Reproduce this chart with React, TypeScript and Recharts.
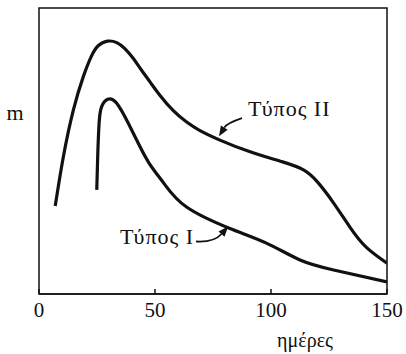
import { LineChart, Line, XAxis, YAxis, ReferenceArea, ReferenceDot } from 'recharts';

const xTicks = [0, 50, 100, 150];

const typeIIDays = [7, 10.5, 14.8, 19.1, 22.5, 25.5, 29.5, 33.5, 37, 40.5, 44, 48, 52, 58, 63.5, 69, 78, 91, 105, 114, 120, 127, 134, 141, 150];
const typeIIValues = [30.8, 48, 64.3, 76, 83, 86.8, 88.4, 87.9, 85.8, 82.5, 78.5, 74, 69.6, 64, 60.2, 57.3, 53.8, 49.7, 46.2, 43.4, 39.2, 31.8, 23.4, 16.4, 10.8];

const typeIDays = [24.9, 25.3, 25.9, 27, 29.6, 33.5, 38.5, 42.8, 47.5, 54, 63.6, 82, 98, 112.5, 127, 150];
const typeIValues = [36.4, 48, 59.7, 65.5, 68.1, 66.7, 59.7, 52.7, 45.7, 38.5, 30.4, 23, 17.8, 11.9, 8.4, 4.2];

const seriesLabels = ['Τύπος I', 'Τύπος II'];
const xLabel = 'ημέρες';
const yLabel = 'm';

const FONT = '"Liberation Serif", "Times New Roman", serif';

const typeI = typeIDays.map((day, i) => ({ day, value: typeIValues[i] }));
const typeII = typeIIDays.map((day, i) => ({ day, value: typeIIValues[i] }));

// curved arrow ending at (cx, cy), tail and control given as offsets in px
function Arrow({ cx, cy, tail, ctrl, text, textDx, textDy, anchor }: any) {
  const tx = cx + tail[0];
  const ty = cy + tail[1];
  const qx = cx + ctrl[0];
  const qy = cy + ctrl[1];
  const ang = Math.atan2(cy - qy, cx - qx);
  const len = 10;
  const w = 4;
  const bx = cx - len * Math.cos(ang);
  const by = cy - len * Math.sin(ang);
  const p1 = `${bx - w * Math.sin(ang)},${by + w * Math.cos(ang)}`;
  const p2 = `${bx + w * Math.sin(ang)},${by - w * Math.cos(ang)}`;
  return (
    <g>
      <path d={`M${tx},${ty} Q${qx},${qy} ${bx},${by}`} fill="none" stroke="#111" strokeWidth={1.8} />
      <polygon points={`${cx},${cy} ${p1} ${p2}`} fill="#111" />
      <text
        x={cx + textDx}
        y={cy + textDy}
        textAnchor={anchor}
        fontSize={22}
        letterSpacing={1}
        fontFamily={FONT}
        fill="#111"
      >
        {text}
      </text>
    </g>
  );
}

export default function App() {
  return (
    <div style={{ position: 'absolute', left: 0, top: 0, width: 406, height: 354, background: '#fff' }}>
      <LineChart width={406} height={354} margin={{ top: 8, right: 19, left: 0, bottom: 0 }}>
        <XAxis
          type="number"
          dataKey="day"
          domain={[0, 150]}
          ticks={xTicks}
          allowDataOverflow
          height={60}
          axisLine={{ stroke: '#111', strokeWidth: 1.5 }}
          tickLine={{ stroke: '#111', strokeWidth: 1.5 }}
          tickSize={-5}
          tickMargin={13}
          tick={{ fontSize: 21, fontFamily: FONT, fill: '#111' }}
          label={{
            content: ({ viewBox }: any) => (
              <text x={viewBox.x + viewBox.width - 54} y={viewBox.y + 53} textAnchor="end" fontSize={20} fontFamily={FONT} fill="#111">
                {xLabel}
              </text>
            ),
          }}
        />
        <YAxis
          type="number"
          domain={[0, 100]}
          width={39}
          tick={false}
          tickLine={false}
          axisLine={false}
          label={{
            content: ({ viewBox }: any) => (
              <text x={viewBox.x + 15} y={viewBox.y + 112} textAnchor="middle" fontSize={22} fontFamily={FONT} fill="#111">
                {yLabel}
              </text>
            ),
          }}
        />
        <ReferenceArea x1={0} x2={150} y1={0} y2={100} fill="none" stroke="#111" strokeWidth={1.5} fillOpacity={0} />
        <Line
          data={typeII}
          dataKey="value"
          type="natural"
          stroke="#111"
          strokeWidth={3.2}
          dot={false}
          isAnimationActive={false}
        />
        <Line
          data={typeI}
          dataKey="value"
          type="natural"
          stroke="#111"
          strokeWidth={3.2}
          dot={false}
          isAnimationActive={false}
        />
        <ReferenceDot
          x={77.6}
          y={55.2}
          r={0}
          shape={(p: any) => (
            <Arrow cx={p.cx} cy={p.cy} tail={[23, -18]} ctrl={[8, -13]} text={seriesLabels[1]} textDx={29} textDy={-20} anchor="start" />
          )}
        />
        <ReferenceDot
          x={81.5}
          y={23.6}
          r={0}
          shape={(p: any) => (
            <Arrow cx={p.cx} cy={p.cy} tail={[-32, 15]} ctrl={[-14, 16]} text={seriesLabels[0]} textDx={-34} textDy={17} anchor="end" />
          )}
        />
      </LineChart>
    </div>
  );
}
